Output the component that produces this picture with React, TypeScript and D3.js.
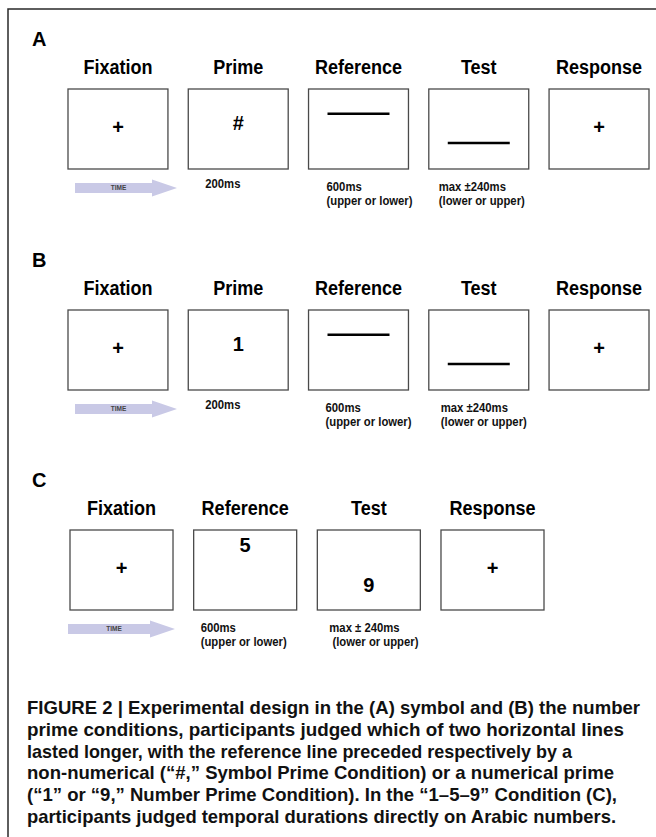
import React from 'react';
import * as d3 from 'd3';

// panel letters and the stage names of each panel
const panelLetters = ['A', 'B', 'C'];
const stagesAB = ['Fixation', 'Prime', 'Reference', 'Test', 'Response'];
const stagesC = ['Fixation', 'Reference', 'Test', 'Response'];

// what is shown inside each screen
const screensA = [
  { kind: 'plus', slot: 'middle' },
  { kind: 'glyph', text: '#', slot: 'middle' },
  { kind: 'line', slot: 'upper' },
  { kind: 'line', slot: 'lower' },
  { kind: 'plus', slot: 'middle' },
];
const screensB = [
  { kind: 'plus', slot: 'middle' },
  { kind: 'glyph', text: '1', slot: 'middle' },
  { kind: 'line', slot: 'upper' },
  { kind: 'line', slot: 'lower' },
  { kind: 'plus', slot: 'middle' },
];
const screensC = [
  { kind: 'plus', slot: 'middle' },
  { kind: 'glyph', text: '5', slot: 'upper' },
  { kind: 'glyph', text: '9', slot: 'lower' },
  { kind: 'plus', slot: 'middle' },
];

// durations written under the screens
const durationsAB = [null, ['200ms'], ['600ms', '(upper or lower)'], ['max \u00b1240ms', '(lower or upper)'], null];
const durationsC = [null, ['600ms', '(upper or lower)'], ['max \u00b1 240ms', '\u00a0(lower or upper)'], null];

const timeLabel = 'TIME';

const captionLines = [
  'FIGURE 2 | Experimental design in the (A) symbol and (B) the number',
  'prime conditions, participants judged which of two horizontal lines',
  'lasted longer, with the reference line preceded respectively by a',
  'non-numerical (\u201c#,\u201d Symbol Prime Condition) or a numerical prime',
  '(\u201c1\u201d or \u201c9,\u201d Number Prime Condition). In the \u201c1\u20135\u20139\u201d Condition (C),',
  'participants judged temporal durations directly on Arabic numbers.',
];

const W = 656;
const H = 837;
const FONT = '"Liberation Sans", Arial, Helvetica, sans-serif';
const BOX_H = 80;
const captionRight = [640, 624, 572, 614, 617, 616];

const panels = [
  {
    letter: panelLetters[0], stages: stagesAB, screens: screensA, durations: durationsAB,
    top: 89, range: [68, 649], pad: 0.169, arrow: [75, 177], noteDx: [0, 17, 18, 10, 0],
  },
  {
    letter: panelLetters[1], stages: stagesAB, screens: screensB, durations: durationsAB,
    top: 310, range: [68, 649], pad: 0.169, arrow: [75, 177], noteDx: [0, 17, 17, 12, 0],
  },
  {
    letter: panelLetters[2], stages: stagesC, screens: screensC, durations: durationsC,
    top: 530, range: [70, 544], pad: 0.167, arrow: [68, 175], noteDx: [0, 7, 12, 0],
  },
];

const lineSlot = d3.scaleOrdinal().domain(['upper', 'lower']).range([0.31, 0.675]);
const glyphSlot = d3.scaleOrdinal().domain(['upper', 'middle', 'lower']).range([0.19, 0.43, 0.69]);
const plusSlot = 0.48;

// condensed bold text, like the narrow face of the original
function Narrow({ x, y, size, sx, anchor = 'start', children, fill = '#111', baseline }) {
  return (
    <text transform={`translate(${x},${y}) scale(${sx},1)`} textAnchor={anchor}
      dominantBaseline={baseline} fontSize={size} fontWeight="bold" fontFamily={FONT} fill={fill}>
      {children}
    </text>
  );
}

function Panel({ p }) {
  const x = d3.scaleBand().domain(p.stages).range(p.range).paddingInner(p.pad).paddingOuter(0);
  const y = d3.scaleLinear().domain([0, 1]).range([p.top, p.top + BOX_H]);
  const bw = x.bandwidth();
  const bottom = p.top + BOX_H;
  const ay = bottom + 19;
  const [ax0, ax1] = p.arrow;
  const headStart = ax1 - 25;
  const arrowPath = d3.path();
  arrowPath.moveTo(ax0, ay - 5);
  arrowPath.lineTo(headStart, ay - 5);
  arrowPath.lineTo(headStart, ay - 8.5);
  arrowPath.lineTo(ax1, ay);
  arrowPath.lineTo(headStart, ay + 8.5);
  arrowPath.lineTo(headStart, ay + 5);
  arrowPath.lineTo(ax0, ay + 5);
  arrowPath.closePath();

  return (
    <g>
      <text x={32} y={p.top - 43} fontSize={20} fontWeight="bold" fontFamily={FONT}>{p.letter}</text>
      {p.stages.map((s, i) => {
        const x0 = x(s);
        const cx = x0 + bw / 2;
        const sc = p.screens[i];
        return (
          <g key={s}>
            <Narrow x={cx} y={p.top - 15} size={20.5} sx={0.88} anchor="middle" fill="#000">{s}</Narrow>
            <rect x={x0} y={p.top} width={bw} height={BOX_H} fill="#fff" stroke="#4a4a4a" strokeWidth={1.3} />
            {sc.kind === 'plus' && (
              <text x={cx} y={y(plusSlot)} textAnchor="middle" dominantBaseline="central" fontSize={20} fontWeight="bold" fontFamily={FONT}>+</text>
            )}
            {sc.kind === 'glyph' && (
              <text x={cx} y={y(glyphSlot(sc.slot))} textAnchor="middle" dominantBaseline="central" fontSize={20} fontWeight="bold" fontFamily={FONT}>{sc.text}</text>
            )}
            {sc.kind === 'line' && (
              <line x1={cx - 31} x2={cx + 31} y1={y(lineSlot(sc.slot))} y2={y(lineSlot(sc.slot))} stroke="#000" strokeWidth={2.6} />
            )}
            {p.durations[i] && p.durations[i].map((t, j) => (
              <Narrow key={j} x={x0 + p.noteDx[i]}
                y={p.durations[i].length === 1 ? bottom + 19 : bottom + 22 + j * 14}
                size={13} sx={0.87}>{t}</Narrow>
            ))}
          </g>
        );
      })}
      <path d={arrowPath.toString()} fill="#c9c9e6" />
      <text x={(ax0 + headStart) / 2 + 5} y={ay + 2.3} textAnchor="middle" fontSize={6.5} fontWeight="bold" fontFamily={FONT} fill="#444">{timeLabel}</text>
    </g>
  );
}

export default function App() {
  const captionY = d3.scaleLinear().domain([0, captionLines.length - 1]).range([714, 823]);
  return (
    <svg width={W} height={H} viewBox={`0 0 ${W} ${H}`} style={{ position: 'absolute', left: 0, top: 0, background: '#fff' }}>
      <rect width={W} height={H} fill="#fff" />
      <path d={`M${W} 9 H8 V${H}`} fill="none" stroke="#2a2a2a" strokeWidth={1.5} />
      {panels.map((p) => <Panel key={p.letter} p={p} />)}
      {captionLines.map((line, i) => (
        <text key={i} x={27} y={captionY(i)} fontSize={18.5} fontWeight="bold" fontFamily={FONT}
          textLength={captionRight[i] - 27} lengthAdjust="spacingAndGlyphs" fill="#111">
          {line}
        </text>
      ))}
    </svg>
  );
}
